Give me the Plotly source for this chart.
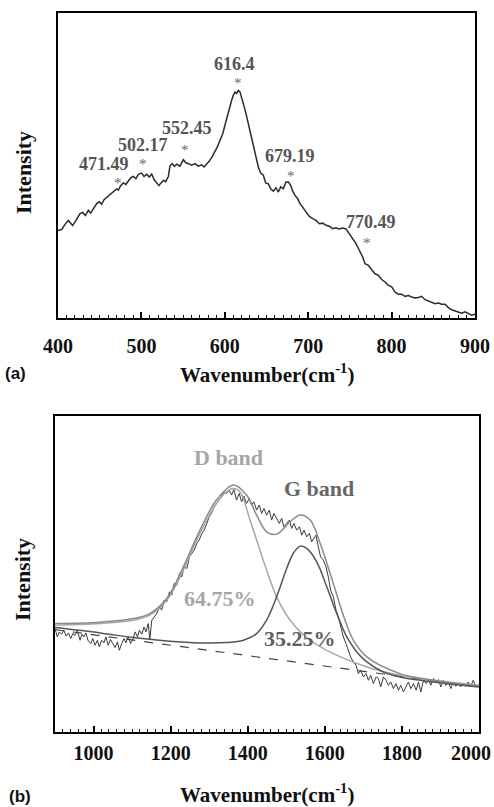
import plotly.graph_objects as go

# ---------------- Panel (a): Raman spectrum 400-900 cm-1 ----------------
wn_a = [400.0, 404.4, 408.4, 412.4, 415.2, 417.6, 421.6, 426.4, 429.6, 432.8, 436.4, 439.2, 442.4,
        446.4, 449.6, 452.4, 455.2, 458.4, 461.6, 464.8, 467.5, 470.3, 472.3, 475.1, 478.3, 481.5,
        484.3, 487.5, 490.3, 493.5, 496.3, 500.3, 503.1, 506.3, 509.5, 512.3, 515.1, 518.3, 521.1,
        523.5, 526.3, 529.1, 532.3, 534.3, 537.1, 539.5, 542.3, 546.3, 550.3, 553.5, 556.7, 560.3,
        564.3, 568.3, 572.3, 575.1, 578.3, 581.5, 584.7, 588.3, 591.1, 594.3, 597.5, 600.2, 603.0,
        605.4, 608.2, 610.2, 612.2, 614.2, 616.2, 618.2, 620.2, 622.2, 625.0, 628.2, 631.0, 634.2,
        637.4, 640.2, 643.0, 646.2, 649.0, 652.2, 655.0, 658.2, 661.4, 664.2, 667.0, 670.2, 673.4,
        676.2, 679.0, 681.4, 684.2, 687.4, 690.2, 693.4, 697.4, 701.4, 705.4, 709.4, 713.4, 717.4,
        721.4, 725.4, 729.4, 733.3, 737.3, 741.3, 745.3, 749.3, 753.3, 757.3, 761.3, 765.3, 768.1,
        772.1, 776.1, 780.1, 784.1, 788.1, 792.1, 796.1, 800.1, 804.1, 808.1, 812.1, 816.1, 820.1,
        824.1, 828.1, 832.1, 836.1, 840.1, 844.1, 848.1, 852.1, 856.1, 860.1, 864.1, 868.1, 872.1,
        876.0, 880.0, 884.0, 888.0, 892.0, 896.0, 900.0]
int_a = [28.7, 29.0, 30.7, 32.0, 31.1, 30.3, 32.0, 34.2, 34.6, 33.6, 35.3, 34.4, 35.8,
         37.5, 38.1, 37.3, 38.8, 39.5, 40.3, 40.8, 41.6, 42.3, 41.9, 43.4, 44.3, 43.8,
         44.9, 46.0, 46.4, 45.7, 47.1, 47.5, 46.4, 47.1, 46.2, 47.3, 45.4, 44.3, 43.4,
         44.3, 45.1, 44.7, 46.4, 49.9, 50.6, 49.7, 50.4, 49.8, 51.9, 50.8, 50.6, 50.1,
         50.6, 49.8, 50.2, 49.5, 50.4, 51.5, 52.8, 54.4, 56.1, 58.3, 60.4, 63.2, 66.4,
         69.2, 71.4, 73.0, 74.1, 73.6, 74.6, 74.1, 72.5, 70.3, 67.5, 63.7, 60.4, 57.2,
         53.3, 49.5, 47.5, 46.8, 44.3, 44.0, 42.4, 41.6, 42.7, 41.3, 43.0, 42.4, 44.6,
         44.6, 43.5, 41.6, 40.2, 39.1, 37.5, 36.2, 34.8, 33.3, 32.6, 32.0, 30.9, 31.1,
         30.4, 30.1, 29.3, 29.6, 29.2, 29.5, 29.2, 27.7, 26.3, 24.4, 22.2, 20.0, 17.8,
         17.3, 15.8, 14.5, 14.0, 12.6, 11.8, 10.7, 10.2, 8.5, 7.8, 7.8, 7.1, 7.4,
         6.9, 6.6, 6.7, 7.1, 6.0, 5.6, 5.2, 4.7, 4.9, 4.5, 4.5, 3.4, 2.7,
         2.3, 2.0, 1.6, 2.0, 1.4, 0.9, 1.2]

peak_wn = [471.49, 502.17, 552.45, 616.4, 679.19, 770.49]
peak_labels = ["471.49", "502.17", "552.45", "616.4", "679.19", "770.49"]
star_int = [44.3, 50.5, 55.1, 77.0, 46.6, 24.6]
label_wn = [455.2, 501.9, 554.7, 612.2, 678.2, 775.3]
label_int = [50.5, 56.7, 62.3, 83.3, 53.1, 31.5]

# ---------------- Panel (b): D / G band fit 900-2000 cm-1 ----------------
wn_b = [900, 906, 911, 917, 923, 929, 935, 941, 946, 952, 958, 965, 970, 975, 980, 986, 993, 998,
        1004, 1010, 1015, 1021, 1027, 1032, 1038, 1044, 1050, 1056, 1062, 1067, 1073, 1079, 1084,
        1090, 1096, 1101, 1108, 1114, 1119, 1125, 1131, 1136, 1142, 1146, 1151, 1157, 1164, 1171,
        1177, 1183, 1190, 1197, 1203, 1209, 1216, 1223, 1229, 1235, 1242, 1249, 1255, 1261, 1268,
        1274, 1281, 1287, 1294, 1300, 1306, 1313, 1319, 1326, 1332, 1338, 1345, 1352, 1358, 1364,
        1371, 1378, 1384, 1390, 1397, 1404, 1410, 1416, 1423, 1430, 1436, 1442, 1449, 1456, 1462,
        1468, 1475, 1482, 1488, 1494, 1501, 1508, 1514, 1520, 1527, 1534, 1540, 1546, 1553, 1560,
        1566, 1572, 1577, 1583, 1589, 1596, 1603, 1609, 1615, 1622, 1629, 1635, 1641, 1648, 1655,
        1661, 1667, 1674, 1681, 1687, 1693, 1700, 1707, 1713, 1719, 1726, 1733, 1739, 1745, 1752,
        1759, 1765, 1771, 1778, 1785, 1791, 1797, 1804, 1811, 1817, 1823, 1830, 1837, 1843, 1849,
        1856, 1863, 1869, 1875, 1882, 1888, 1895, 1901, 1907, 1914, 1920, 1927, 1933, 1940, 1946,
        1952, 1959, 1966, 1972, 1978, 1985, 1992, 2000]
int_b = [310, 285, 300, 293, 305, 287, 297, 280, 295, 290, 303, 275, 293, 285, 297, 273, 265, 280,
         260, 275, 255, 275, 267, 285, 260, 277, 265, 253, 270, 245, 265, 280, 267,
         287, 265, 275, 300, 285, 305, 293, 315, 300, 325, 277, 335, 345, 355, 375,
         365, 395, 390, 420, 410, 445, 440, 475, 465, 495, 490, 525, 535, 545, 565,
         575, 595, 605, 625, 645, 655, 675, 685, 695, 705, 720, 715, 725, 710, 727,
         695, 715, 690, 707, 685, 700, 680, 690, 665, 680, 655, 670, 650, 665, 635,
         655, 640, 625, 640, 615, 625, 635, 610, 625, 605, 615, 590, 605, 585, 595,
         570, 580, 590, 555, 525, 515, 495, 465, 425, 405, 365, 345, 315, 285, 265,
         245, 225, 210, 200, 175, 185, 165, 175, 155, 170, 145, 165, 160, 135, 165,
         155, 140, 150, 130, 145, 125, 140, 120, 135, 150, 130, 145, 125, 150, 120,
         155, 145, 155, 140, 160, 150, 157, 135, 155, 140, 150, 130, 150, 137, 147,
         135, 145, 137, 150, 135, 155, 137, 140]

fit_wn_d = [900, 1017, 1103, 1146, 1190, 1233, 1276, 1319, 1345, 1363, 1380, 1406, 1449, 1475,
            1510, 1562, 1622, 1709, 1795, 1882, 2000]
fit_int_d = [320, 325, 335, 350, 395, 485, 595, 685, 720, 730, 720, 635, 485, 405,
             335, 275, 235, 195, 170, 155, 140]

fit_wn_g = [900, 1017, 1103, 1190, 1276, 1345, 1389, 1423, 1449, 1475, 1501, 1518, 1536, 1553,
            1579, 1605, 1631, 1657, 1683, 1709, 1752, 1795, 1882, 2000]
fit_int_g = [313, 297, 283, 273, 267, 268, 275, 295, 335, 405, 490, 535, 557, 550,
             510, 435, 355, 285, 240, 210, 180, 165, 150, 135]

fit_wn_sum = [900, 1017, 1103, 1146, 1190, 1233, 1276, 1319, 1363, 1397, 1423, 1449, 1475, 1510,
              1536, 1562, 1588, 1622, 1648, 1674, 1709, 1795, 1882, 2000]
fit_int_sum = [325, 329, 340, 355, 400, 495, 605, 695, 740, 710, 650, 600, 593, 630,
               650, 635, 565, 445, 350, 275, 225, 175, 155, 137]

base_wn = [900, 2000]
base_int = [307, 135]

band_labels = ["D band", "G band", "64.75%", "35.25%"]
band_wn = [1351, 1584, 1329, 1536]
band_int = [824, 730, 400, 280]
band_colors = ["#a6a6a6", "#666666", "#a6a6a6", "#5e5e5e"]

ticks_a = [400, 500, 600, 700, 800, 900]
ticks_b = [1000, 1200, 1400, 1600, 1800, 2000]

SERIF = "Liberation Serif, Times New Roman, serif"
W, H = 494, 807


def px(x):
    return x / W


def py(y):
    return 1 - y / H


fig = go.Figure()

fig.add_trace(go.Scatter(x=wn_a, y=int_a, mode="lines", line=dict(color="#2b2b2b", width=1.5),
                         xaxis="x", yaxis="y", showlegend=False))

fig.add_trace(go.Scatter(x=base_wn, y=base_int, mode="lines",
                         line=dict(color="#444444", width=1.2, dash="dash"),
                         xaxis="x2", yaxis="y2", showlegend=False))
fig.add_trace(go.Scatter(x=wn_b, y=int_b, mode="lines", line=dict(color="#3a3a3a", width=1),
                         xaxis="x2", yaxis="y2", showlegend=False))
fig.add_trace(go.Scatter(x=fit_wn_d, y=fit_int_d, mode="lines",
                         line=dict(color="#a8a8a8", width=1.5, shape="spline", smoothing=1.0),
                         xaxis="x2", yaxis="y2", showlegend=False))
fig.add_trace(go.Scatter(x=fit_wn_sum, y=fit_int_sum, mode="lines",
                         line=dict(color="#8a8a8a", width=1.5, shape="spline", smoothing=1.0),
                         xaxis="x2", yaxis="y2", showlegend=False))
fig.add_trace(go.Scatter(x=fit_wn_g, y=fit_int_g, mode="lines",
                         line=dict(color="#555555", width=1.5, shape="spline", smoothing=1.0),
                         xaxis="x2", yaxis="y2", showlegend=False))

annotations = []
for w, yv in zip(peak_wn, star_int):
    annotations.append(dict(x=w, y=yv, xref="x", yref="y", text="*", showarrow=False,
                            xanchor="center", yanchor="middle",
                            font=dict(family=SERIF, size=15, color="#666666")))
for w, yv, t in zip(label_wn, label_int, peak_labels):
    annotations.append(dict(x=w, y=yv, xref="x", yref="y", text="<b>%s</b>" % t, showarrow=False,
                            xanchor="center", yanchor="middle",
                            font=dict(family=SERIF, size=18, color="#555555")))
for w, yv, t, c in zip(band_wn, band_int, band_labels, band_colors):
    annotations.append(dict(x=w, y=yv, xref="x2", yref="y2", text="<b>%s</b>" % t, showarrow=False,
                            xanchor="center", yanchor="middle",
                            font=dict(family=SERIF, size=22, color=c)))

# last tick label of panel (b) sits flush with the right edge, as in the original figure
annotations.append(dict(x=px(493), y=py(753), xref="paper", yref="paper",
                        text="<b>%d</b>" % ticks_b[-1], showarrow=False,
                        xanchor="right", yanchor="middle",
                        font=dict(family=SERIF, size=20, color="#111111")))

title_text = "<b>Wavenumber(cm<sup>-1</sup>)</b>"
page_texts = [
    (267, 373, title_text, SERIF, 21, 0),
    (267, 793, title_text, SERIF, 21, 0),
    (15, 373, "<b>(a)</b>", "Liberation Sans, Arial, sans-serif", 17, 0),
    (20, 796, "<b>(b)</b>", "Liberation Sans, Arial, sans-serif", 17, 0),
    (23, 173, "<b>Intensity</b>", SERIF, 22, -90),
    (22, 580, "<b>Intensity</b>", SERIF, 22, -90),
]
for (xx, yy, t, fam, sz, ang) in page_texts:
    annotations.append(dict(x=px(xx), y=py(yy), xref="paper", yref="paper", text=t,
                            showarrow=False, xanchor="center", yanchor="middle", textangle=ang,
                            font=dict(family=fam, size=sz, color="#111111")))

common_x = dict(showline=True, linewidth=2, linecolor="black", mirror=True, showgrid=False,
                zeroline=False, ticks="inside", ticklen=6, tickwidth=1.5, tickcolor="black",
                tickfont=dict(family=SERIF, size=20, color="#111111"),
                automargin=False, ticklabeloverflow="allow")
common_y = dict(showline=True, linewidth=2, linecolor="black", mirror=True, showgrid=False,
                zeroline=False, ticks="", showticklabels=False, automargin=False)

fig.update_layout(
    width=W, height=H, margin=dict(l=0, r=0, t=0, b=0, autoexpand=False),
    paper_bgcolor="white", plot_bgcolor="white",
    xaxis=dict(common_x, domain=[px(58), px(475)], range=[400, 900],
               tickvals=ticks_a, ticktext=["<b>%d</b>" % v for v in ticks_a],
               anchor="y", ticklabelstandoff=9,
               minor=dict(ticks="inside", ticklen=3, dtick=10, tickwidth=1, tickcolor="black")),
    yaxis=dict(common_y, domain=[py(318), py(13)], range=[0, 100], anchor="x"),
    xaxis2=dict(common_x, domain=[px(55), px(479)], range=[900, 2000],
                tickvals=ticks_b, ticktext=["<b>%d</b>" % v for v in ticks_b[:-1]] + [""],
                anchor="y2", ticklabelstandoff=2,
                minor=dict(ticks="inside", ticklen=3, tick0=900, dtick=20, tickwidth=1,
                           tickcolor="black")),
    yaxis2=dict(common_y, domain=[py(732), py(416)], range=[0, 947], anchor="x2"),
    annotations=annotations,
)

fig.write_html("out.html")
